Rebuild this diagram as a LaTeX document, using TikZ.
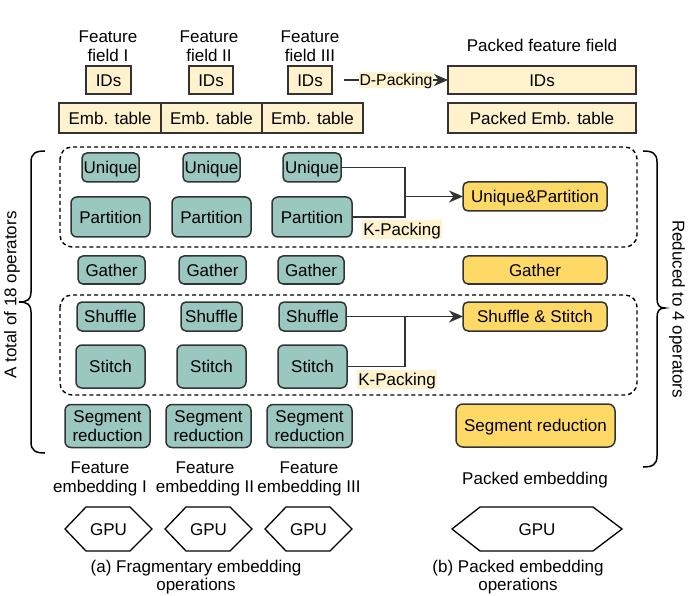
\documentclass[tikz,border=0pt]{standalone}
\usepackage{fontspec}
\setmainfont{Liberation Sans}
\usetikzlibrary{arrows.meta}
\definecolor{cyel}{HTML}{FFF2CC}
\definecolor{cteal}{HTML}{9AC7BF}
\definecolor{corg}{HTML}{FFD966}
\definecolor{cline}{HTML}{333333}
\begin{document}
\begin{tikzpicture}[x=1pt,y=-1pt,
  every node/.style={font=\fontsize{17}{19.5}\selectfont, inner sep=0pt, outer sep=0pt},
  one/.style={text height=12.2pt, text depth=0pt},
  ybox/.style={draw=cline, fill=cyel, line width=1.5pt, one},
  tbox/.style={draw=cline, fill=cteal, line width=1.5pt, rounded corners=5pt, one},
  obox/.style={draw=cline, fill=corg, line width=1.5pt, rounded corners=5pt, one},
  dbox/.style={draw=black, dashed, dash pattern=on 4pt off 3pt, line width=1.4pt, rounded corners=12pt},
  conn/.style={draw=cline, line width=1.8pt},
  arr/.style={conn, -{Stealth[length=14pt,width=12pt,inset=4.5pt]}},
  lbl/.style={fill=cyel, inner xsep=1.5pt, minimum height=19pt, one},
  txt/.style={align=center},
  gpu/.style={draw=black, line width=1.3pt},
  brace/.style={draw=black, line width=1.5pt}
]
\useasboundingbox (0,0) rectangle (691,596);

% top labels
\node[txt] (ff1) at (108,46) {Feature\\field I};
\node[txt] (ff2) at (209,46) {Feature\\field II};
\node[txt] (ff3) at (310,46) {Feature\\field III};
\node[one] (pff) at (542,45) {Packed feature field};

% IDs
\node[ybox, minimum width=45pt, minimum height=28pt] (id1) at (108.5,80) {IDs};
\node[ybox, minimum width=44pt, minimum height=28pt] (id2) at (211,80) {IDs};
\node[ybox, minimum width=44pt, minimum height=28pt] (id3) at (310,80) {IDs};
\node[ybox, minimum width=188pt, minimum height=28pt] (pid) at (542,80) {IDs};

% Emb tables
\node[ybox, minimum width=102pt, minimum height=30pt] (et1) at (110,118) {Emb. table};
\node[ybox, minimum width=101pt, minimum height=30pt] (et2) at (211.5,118) {Emb. table};
\node[ybox, minimum width=101pt, minimum height=30pt] (et3) at (312.5,118) {Emb. table};
\node[ybox, minimum width=188pt, minimum height=30pt] (pet) at (542,118) {Packed Emb. table};

% D-Packing
\coordinate (dstart) at (344,80);
\draw[arr] (dstart) -- (pid.west) node[midway, lbl, font=\fontsize{15.8}{18}\selectfont, text height=11.3pt, minimum height=16pt, inner xsep=0.5pt] (dpk) {D-Packing};

% dashed groups
\draw[dbox] (60,147) rectangle (637,247);
\draw[dbox] (60,295) rectangle (637,395);

% Unique
\node[tbox, minimum width=57pt, minimum height=29pt] (u1) at (110.5,167.5) {Unique};
\node[tbox, minimum width=57pt, minimum height=29pt] (u2) at (211.5,167.5) {Unique};
\node[tbox, minimum width=58pt, minimum height=29pt] (u3) at (312,167.5) {Unique};
% Partition
\node[tbox, rounded corners=6pt, minimum width=79pt, minimum height=40pt] (p1) at (110.5,217) {Partition};
\node[tbox, rounded corners=6pt, minimum width=79pt, minimum height=40pt] (p2) at (211.5,217) {Partition};
\node[tbox, rounded corners=6pt, minimum width=80pt, minimum height=40pt] (p3) at (312,217) {Partition};
% Gather
\node[tbox, minimum width=67pt, minimum height=28pt] (g1) at (111.5,270) {Gather};
\node[tbox, minimum width=67pt, minimum height=28pt] (g2) at (212.5,270) {Gather};
\node[tbox, minimum width=66pt, minimum height=28pt] (g3) at (311,270) {Gather};
% Shuffle
\node[tbox, minimum width=67pt, minimum height=29pt] (s1) at (110.5,316.5) {Shuffle};
\node[tbox, minimum width=61pt, minimum height=29pt] (s2) at (211.5,316.5) {Shuffle};
\node[tbox, minimum width=67pt, minimum height=29pt] (s3) at (312.5,316.5) {Shuffle};
% Stitch
\node[tbox, rounded corners=6pt, minimum width=69pt, minimum height=43pt] (t1) at (110.5,366.5) {Stitch};
\node[tbox, rounded corners=6pt, minimum width=69pt, minimum height=43pt] (t2) at (211.5,366.5) {Stitch};
\node[tbox, rounded corners=6pt, minimum width=69pt, minimum height=43pt] (t3) at (312.5,366.5) {Stitch};
% Segment reduction
\node[tbox, txt, text height=, text depth=, rounded corners=6pt, minimum width=85pt, minimum height=43pt] (r1) at (107.5,426) {Segment\\reduction};
\node[tbox, txt, text height=, text depth=, rounded corners=6pt, minimum width=85pt, minimum height=43pt] (r2) at (208.5,426) {Segment\\reduction};
\node[tbox, txt, text height=, text depth=, rounded corners=6pt, minimum width=85pt, minimum height=43pt] (r3) at (309.5,426) {Segment\\reduction};

% packed operators
\node[obox, minimum width=144pt, minimum height=29pt] (up) at (535,196.5) {Unique\&Partition};
\node[obox, minimum width=144pt, minimum height=28pt] (gp) at (535,270) {Gather};
\node[obox, minimum width=144pt, minimum height=29pt] (ssp) at (535,316.5) {Shuffle \& Stitch};
\node[obox, rounded corners=7pt, minimum width=159pt, minimum height=43pt] (rp) at (535.5,425.5) {Segment reduction};

% K-Packing connectors
\coordinate (k1) at (405,196.5);
\draw[conn] (u3.east) -| (k1);
\draw[conn] (p3.east) -| (k1);
\draw[arr] (k1) -- (up.west);
\node[lbl] (kp1) at (402,229.5) {K-Packing};

\coordinate (k2) at (405,316.5);
\draw[arr] (s3.east) -- (ssp.west);
\draw[conn] (t3.east) -| (k2);
\node[lbl] (kp2) at (397,379.5) {K-Packing};

% braces
\draw[brace] (45,151) .. controls (36,151) and (31,153) .. (31,162) -- (31,292)
  .. controls (31,299) and (28,302) .. (19,302) .. controls (28,302) and (31,305) .. (31,312)
  -- (31,442) .. controls (31,451) and (36,453) .. (45,453);
\draw[brace] (643,151) .. controls (652,151) and (657,153) .. (657,162) -- (657,298)
  .. controls (657,305) and (659,308) .. (665,308) .. controls (659,308) and (657,311) .. (657,318)
  -- (657,456) .. controls (657,465) and (652,467) .. (643,467);
\node[rotate=90] (tot) at (12,295) {A total of 18 operators};
\node[rotate=-90] (red) at (677,309) {Reduced to 4 operators};

% bottom labels
\node[txt] (fe1) at (100,479) {Feature\\embedding I};
\node[txt] (fe2) at (205,479) {Feature\\embedding II};
\node[txt] (fe3) at (309,479) {Feature\\embedding III};
\node[one] (pe) at (535,478) {Packed embedding};

% GPUs
\draw[gpu] (65,529) -- (86,507) -- (130,507) -- (152,529) -- (130,551) -- (86,551) -- cycle;
\node[one] (gpu1) at (108.5,529) {GPU};
\draw[gpu] (165,529) -- (186,507) -- (230,507) -- (252,529) -- (230,551) -- (186,551) -- cycle;
\node[one] (gpu2) at (208.5,529) {GPU};
\draw[gpu] (265,529) -- (286,507) -- (330,507) -- (352,529) -- (330,551) -- (286,551) -- cycle;
\node[one] (gpu3) at (308.5,529) {GPU};
\draw[gpu] (452,529) -- (480,507) -- (593,507) -- (622,529) -- (593,551) -- (480,551) -- cycle;
\node[one] (gpu4) at (537,529) {GPU};

% captions
\node[txt, font=\fontsize{17}{18.5}\selectfont] (capa) at (196,577) {(a) Fragmentary embedding\\operations};
\node[txt, font=\fontsize{17}{18.5}\selectfont] (capb) at (518,577) {(b) Packed embedding\\operations};
\end{tikzpicture}
\end{document}
